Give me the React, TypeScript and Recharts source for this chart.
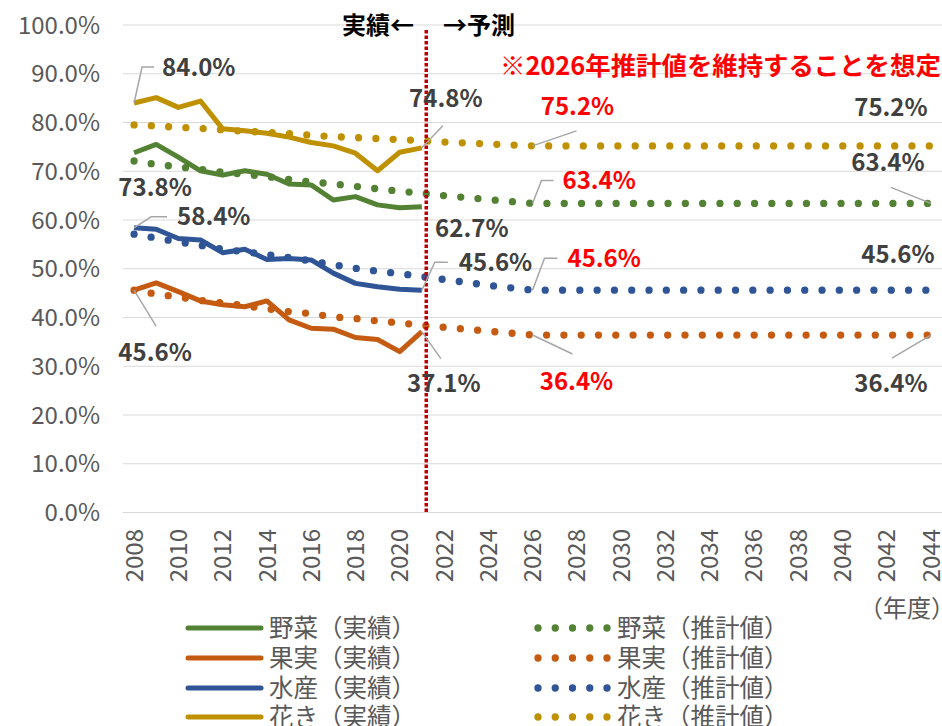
import React from 'react';
import { LineChart, Line, XAxis, YAxis, CartesianGrid, ReferenceLine } from 'recharts';

const years = [2008, 2009, 2010, 2011, 2012, 2013, 2014, 2015, 2016, 2017, 2018, 2019, 2020, 2021, 2022, 2023, 2024, 2025, 2026, 2027, 2028, 2029, 2030, 2031, 2032, 2033, 2034, 2035, 2036, 2037, 2038, 2039, 2040, 2041, 2042, 2043, 2044];
const xTicks = [2008, 2010, 2012, 2014, 2016, 2018, 2020, 2022, 2024, 2026, 2028, 2030, 2032, 2034, 2036, 2038, 2040, 2042, 2044];
const yTicks = [0, 10, 20, 30, 40, 50, 60, 70, 80, 90, 100];

// 実績 (2008-2021)
const vegActual = [73.8, 75.5, 72.9, 70.1, 69.2, 70.1, 69.4, 67.4, 67.2, 64.1, 64.8, 63.1, 62.5, 62.7];
const fruitActual = [45.6, 47.1, 45.3, 43.4, 42.6, 42.2, 43.4, 39.5, 37.8, 37.6, 35.9, 35.5, 33.0, 37.1];
const fishActual = [58.4, 58.1, 56.2, 55.9, 53.3, 54.0, 51.9, 52.1, 51.8, 49.1, 47.0, 46.3, 45.8, 45.6];
const flowerActual = [84.0, 85.1, 83.1, 84.4, 78.7, 78.3, 77.8, 77.0, 75.9, 75.2, 73.7, 70.1, 73.9, 74.8];

// 推計値 (2008-2044)
const vegEst = [72.1, 71.4, 70.9, 70.4, 69.8, 69.4, 68.9, 68.3, 67.8, 67.4, 66.9, 66.4, 65.9, 65.5, 65.0, 64.6, 64.2, 63.8, 63.4, 63.4, 63.4, 63.4, 63.4, 63.4, 63.4, 63.4, 63.4, 63.4, 63.4, 63.4, 63.4, 63.4, 63.4, 63.4, 63.4, 63.4, 63.4];
const fruitEst = [45.6, 44.8, 44.2, 43.5, 43.0, 42.4, 41.8, 41.2, 40.8, 40.1, 39.8, 39.3, 38.9, 38.4, 38.0, 37.6, 37.2, 36.8, 36.4, 36.4, 36.4, 36.4, 36.4, 36.4, 36.4, 36.4, 36.4, 36.4, 36.4, 36.4, 36.4, 36.4, 36.4, 36.4, 36.4, 36.4, 36.4];
const fishEst = [57.1, 56.3, 55.5, 54.8, 54.0, 53.5, 52.9, 52.3, 51.6, 50.8, 50.1, 49.5, 49.0, 48.4, 47.8, 47.2, 46.6, 46.1, 45.6, 45.6, 45.6, 45.6, 45.6, 45.6, 45.6, 45.6, 45.6, 45.6, 45.6, 45.6, 45.6, 45.6, 45.6, 45.6, 45.6, 45.6, 45.6];
const flowerEst = [79.5, 79.3, 79.0, 78.8, 78.5, 78.2, 78.0, 77.7, 77.4, 77.1, 76.9, 76.7, 76.5, 76.3, 76.0, 75.8, 75.6, 75.4, 75.2, 75.2, 75.2, 75.2, 75.2, 75.2, 75.2, 75.2, 75.2, 75.2, 75.2, 75.2, 75.2, 75.2, 75.2, 75.2, 75.2, 75.2, 75.2];

const splitYear = 2021.2;

const C_VEG = '#548235';
const C_FRUIT = '#C55A11';
const C_FISH = '#2F5597';
const C_FLOWER = '#BF9000';
const FONT = "'Noto Sans CJK JP', 'Noto Sans', sans-serif";

const data = years.map((yr, i) => ({
  year: yr,
  vegA: i < vegActual.length ? vegActual[i] : null,
  fruitA: i < fruitActual.length ? fruitActual[i] : null,
  fishA: i < fishActual.length ? fishActual[i] : null,
  flowerA: i < flowerActual.length ? flowerActual[i] : null,
  vegE: vegEst[i],
  fruitE: fruitEst[i],
  fishE: fishEst[i],
  flowerE: flowerEst[i],
}));

type Spec = { i: number; dx: number; dy: number; anchor: 'start' | 'middle' | 'end'; leader?: number[][]; red?: boolean };

const makeLabel = (specs: Spec[]) => (props: any) => {
  const vb = props.viewBox || {};
  const x = props.x != null ? props.x : vb.x;
  const y = props.y != null ? props.y : vb.y;
  const s = specs.find((q) => q.i === props.index);
  if (!s || x == null || y == null || props.value == null) return <g key={`e-${props.index}`} />;
  const pts = s.leader ? s.leader.map((p) => `${x + p[0]},${y + p[1]}`).join(' ') : null;
  return (
    <g key={`l-${props.index}`}>
      {pts && <polyline points={pts} fill="none" stroke="#A6A6A6" strokeWidth={1.5} />}
      <text
        x={x + s.dx}
        y={y + s.dy}
        dy="0.36em"
        textAnchor={s.anchor}
        fontFamily={FONT}
        fontWeight={700}
        fontSize={24}
        fill={s.red ? '#FF0000' : '#404040'}
      >
        {Number(props.value).toFixed(1)}%
      </text>
    </g>
  );
};

const flowerALabels: Spec[] = [
  { i: 0, dx: 28, dy: -36, anchor: 'start', leader: [[0, 0], [8, -36], [20, -36]] },
  { i: 13, dx: 24, dy: -49, anchor: 'middle', leader: [[0, 0], [21, -22]] },
];
const vegALabels: Spec[] = [
  { i: 0, dx: 21, dy: 35, anchor: 'middle' },
  { i: 13, dx: 50, dy: 22, anchor: 'middle' },
];
const fishALabels: Spec[] = [
  { i: 0, dx: 43, dy: -11, anchor: 'start', leader: [[0, 0], [17, -11], [33, -11]] },
  { i: 13, dx: 37, dy: -28, anchor: 'start', leader: [[0, 0], [13, -28], [26, -28]] },
];
const fruitALabels: Spec[] = [
  { i: 0, dx: 21, dy: 62, anchor: 'middle', leader: [[0, 0], [22, 36]] },
  { i: 13, dx: 22, dy: 52, anchor: 'middle', leader: [[0, 0], [19, 27]] },
];
const flowerELabels: Spec[] = [
  { i: 18, dx: 45, dy: -40, anchor: 'middle', leader: [[0, 0], [44, -15]], red: true },
  { i: 36, dx: -40, dy: -39, anchor: 'middle' },
];
const vegELabels: Spec[] = [
  { i: 18, dx: 30, dy: -23, anchor: 'start', leader: [[0, 0], [9, -23], [21, -23]], red: true },
  { i: 36, dx: -43, dy: -41, anchor: 'middle', leader: [[0, 0], [-40, -16]] },
];
const fishELabels: Spec[] = [
  { i: 18, dx: 35, dy: -32, anchor: 'start', leader: [[0, 0], [12, -32], [25, -32]], red: true },
  { i: 36, dx: -33, dy: -36, anchor: 'middle' },
];
const fruitELabels: Spec[] = [
  { i: 18, dx: 44, dy: 46, anchor: 'middle', leader: [[0, 0], [40, 19]], red: true },
  { i: 36, dx: -40, dy: 48, anchor: 'middle', leader: [[0, 0], [-39, 23]] },
];

const XTick = (props: any) => {
  const { x, payload } = props;
  const y = 529;
  return (
    <text x={x} y={y} dy="0.36em" transform={`rotate(-90, ${x}, ${y})`} textAnchor="end" fontFamily={FONT} fontSize={24} fill="#595959">
      {payload.value}
    </text>
  );
};

const YTick = (props: any) => {
  const { y, payload } = props;
  return (
    <text x={100} y={y} dy="0.36em" textAnchor="end" fontFamily={FONT} fontSize={24} fill="#595959">
      {Number(payload.value).toFixed(1)}%
    </text>
  );
};

const legendRows = [
  { name: '野菜', color: C_VEG },
  { name: '果実', color: C_FRUIT },
  { name: '水産', color: C_FISH },
  { name: '花き', color: C_FLOWER },
];
const legendY = [628, 658, 688, 717];

export default function App() {
  return (
    <div style={{ position: 'absolute', left: 0, top: 0, width: 942, height: 726, background: '#fff', overflow: 'hidden' }}>
      <LineChart width={942} height={726} data={data} margin={{ top: 25, right: 0, bottom: 153.5, left: 0 }}>
        <CartesianGrid vertical={false} stroke="#D9D9D9" strokeWidth={1.2} />
        <XAxis dataKey="year" type="number" domain={[2007.5, 2044.5]} ticks={xTicks} interval={0} tick={<XTick />} axisLine={false} tickLine={false} height={60} allowDataOverflow />
        <YAxis type="number" domain={[0, 100]} ticks={yTicks} tick={<YTick />} axisLine={false} tickLine={false} width={123} />
        <Line dataKey="vegA" stroke={C_VEG} strokeWidth={5} dot={false} activeDot={false} isAnimationActive={false} strokeLinejoin="round" label={makeLabel(vegALabels)} />
        <Line dataKey="fruitA" stroke={C_FRUIT} strokeWidth={5} dot={false} activeDot={false} isAnimationActive={false} strokeLinejoin="round" label={makeLabel(fruitALabels)} />
        <Line dataKey="fishA" stroke={C_FISH} strokeWidth={5} dot={false} activeDot={false} isAnimationActive={false} strokeLinejoin="round" label={makeLabel(fishALabels)} />
        <Line dataKey="flowerA" stroke={C_FLOWER} strokeWidth={5} dot={false} activeDot={false} isAnimationActive={false} strokeLinejoin="round" label={makeLabel(flowerALabels)} />
        <Line dataKey="vegE" stroke={C_VEG} strokeWidth={7.3} strokeDasharray="0 17.3" strokeLinecap="round" dot={false} activeDot={false} isAnimationActive={false} label={makeLabel(vegELabels)} />
        <Line dataKey="fruitE" stroke={C_FRUIT} strokeWidth={7.3} strokeDasharray="0 17.3" strokeLinecap="round" dot={false} activeDot={false} isAnimationActive={false} label={makeLabel(fruitELabels)} />
        <Line dataKey="fishE" stroke={C_FISH} strokeWidth={7.3} strokeDasharray="0 17.3" strokeLinecap="round" dot={false} activeDot={false} isAnimationActive={false} label={makeLabel(fishELabels)} />
        <Line dataKey="flowerE" stroke={C_FLOWER} strokeWidth={7.3} strokeDasharray="0 17.3" strokeLinecap="round" dot={false} activeDot={false} isAnimationActive={false} label={makeLabel(flowerELabels)} />
        <ReferenceLine segment={[{ x: splitYear, y: 99 }, { x: splitYear, y: 0 }]} stroke="#C00000" strokeWidth={3.5} strokeDasharray="3.5 2" ifOverflow="visible" />
      </LineChart>
      <svg width={942} height={726} style={{ position: 'absolute', left: 0, top: 0, pointerEvents: 'none' }}>
        <text x={342} y={25} dy="0.36em" fontFamily={FONT} fontWeight={700} fontSize={24} fill="#000">実績←</text>
        <text x={443} y={25} dy="0.36em" fontFamily={FONT} fontWeight={700} fontSize={24} fill="#000">→予測</text>
        <text x={500} y={66} dy="0.36em" fontFamily={FONT} fontWeight={700} fontSize={25.4} fill="#FF0000">※2026年推計値を維持することを想定</text>
        <text x={955} y={608} dy="0.36em" textAnchor="end" fontFamily={FONT} fontSize={24} fill="#595959">（年度）</text>
        {legendRows.map((r, k) => (
          <g key={r.name}>
            <line x1={188} x2={261} y1={legendY[k]} y2={legendY[k]} stroke={r.color} strokeWidth={5} strokeLinecap="round" />
            <text x={269} y={legendY[k]} dy="0.36em" fontFamily={FONT} fontSize={24.5} fill="#595959">{r.name}（実績）</text>
            <line x1={538} x2={607.5} y1={legendY[k]} y2={legendY[k]} stroke={r.color} strokeWidth={7.3} strokeDasharray="0 17.25" strokeLinecap="round" />
            <text x={617} y={legendY[k]} dy="0.36em" fontFamily={FONT} fontSize={24.5} fill="#595959">{r.name}（推計値）</text>
          </g>
        ))}
      </svg>
    </div>
  );
}
